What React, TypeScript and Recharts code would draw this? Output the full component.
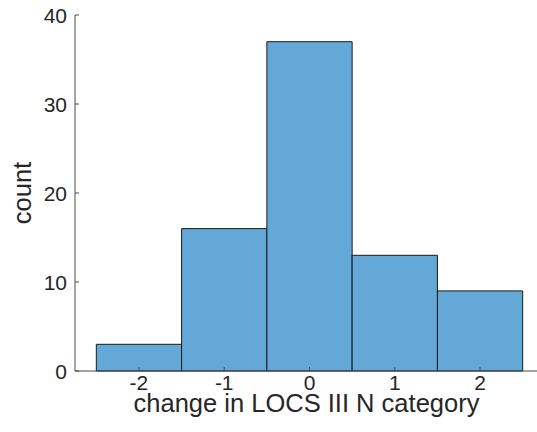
import React from 'react'
import { BarChart, Bar, XAxis, YAxis } from 'recharts'

const categories = [-2, -1, 0, 1, 2]
const counts = [3, 16, 37, 13, 9]
const xTicks = [-2, -1, 0, 1, 2]
const yTicks = [0, 10, 20, 30, 40]

const data = categories.map((c, i) => ({ change: c, count: counts[i] }))

const FONT = '"Liberation Sans", Arial, Helvetica, sans-serif'
const AXIS = '#4a4a4a'
const TEXT = '#262626'

const BottomTick = (props: any) => {
  const { x, y, payload } = props
  return (
    <g>
      <line x1={x} y1={y} x2={x} y2={y - 4} stroke={AXIS} />
      <text x={x} y={y + 19} textAnchor="middle" fontSize={21} fontFamily={FONT} fill={TEXT}>
        {payload.value}
      </text>
    </g>
  )
}

const TopTick = (props: any) => {
  const { x, y } = props
  return <line x1={x} y1={y} x2={x} y2={y + 4} stroke={AXIS} />
}

const LeftTick = (props: any) => {
  const { x, y, payload } = props
  return (
    <g>
      <line x1={x} y1={y} x2={x + 4} y2={y} stroke={AXIS} />
      <text x={x - 8} y={y} textAnchor="end" dominantBaseline="central" fontSize={21} fontFamily={FONT} fill={TEXT}>
        {payload.value}
      </text>
    </g>
  )
}

const XLabel = (props: any) => {
  const vb = props.viewBox
  return (
    <text x={vb.x + vb.width / 2 - 3} y={412} textAnchor="middle" fontSize={25.5} fontFamily={FONT} fill={TEXT}>
      change in LOCS III N category
    </text>
  )
}

const YLabel = (props: any) => {
  const vb = props.viewBox
  const cy = vb.y + vb.height / 2
  return (
    <text
      x={22}
      y={cy}
      transform={`rotate(-90, 22, ${cy})`}
      textAnchor="middle"
      dominantBaseline="central"
      fontSize={25.5}
      fontFamily={FONT}
      fill={TEXT}
    >
      count
    </text>
  )
}

export default function App() {
  return (
    <div style={{ position: 'absolute', left: 0, top: 0, width: 537, height: 432, overflow: 'hidden', background: '#fff' }}>
      <BarChart width={560} height={432} data={data} margin={{ top: 15, right: 16, left: 0, bottom: 0 }}>
        <XAxis
          xAxisId="bottom"
          dataKey="change"
          type="number"
          domain={[-2.75, 2.75]}
          ticks={xTicks}
          allowDataOverflow
          height={61}
          tickSize={0}
          tickMargin={0}
          tickLine={false}
          tick={<BottomTick />}
          axisLine={{ stroke: AXIS }}
          label={<XLabel />}
        />
        <XAxis
          xAxisId="top"
          orientation="top"
          dataKey="change"
          type="number"
          domain={[-2.75, 2.75]}
          ticks={xTicks}
          allowDataOverflow
          height={0}
          tickSize={0}
          tickMargin={0}
          tickLine={false}
          tick={<TopTick />}
          axisLine={{ stroke: AXIS }}
        />
        <YAxis
          domain={[0, 40]}
          ticks={yTicks}
          width={75}
          tickSize={0}
          tickMargin={0}
          tickLine={false}
          tick={<LeftTick />}
          axisLine={{ stroke: AXIS }}
          label={<YLabel />}
        />
        <Bar
          xAxisId="bottom"
          dataKey="count"
          fill="#64a8d7"
          stroke="#1a1a1a"
          strokeWidth={1}
          barSize={85.27}
          isAnimationActive={false}
        />
      </BarChart>
    </div>
  )
}
